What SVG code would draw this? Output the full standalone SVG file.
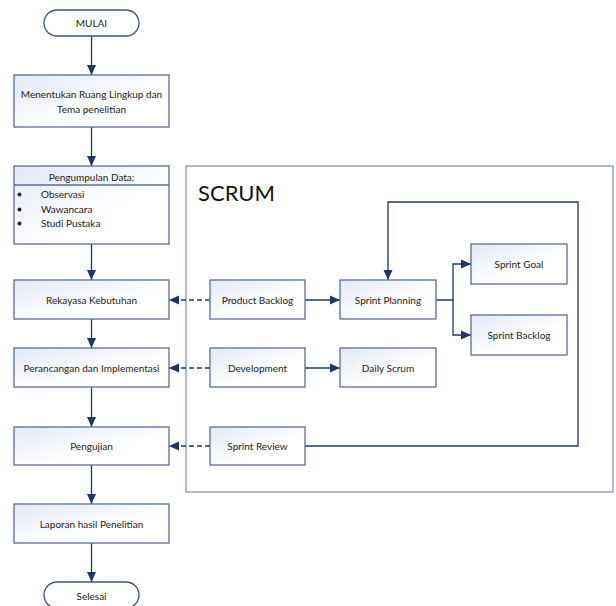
<svg xmlns="http://www.w3.org/2000/svg" width="616" height="606" viewBox="0 0 616 606">
<defs>
<linearGradient id="g" x1="0" y1="0" x2="1" y2="1">
<stop offset="0" stop-color="#e3e8f5"/>
<stop offset="0.6" stop-color="#ffffff"/>
<stop offset="1" stop-color="#ffffff"/>
</linearGradient>
<marker id="ah" markerUnits="userSpaceOnUse" markerWidth="10" markerHeight="10" viewBox="0 0 10 10" refX="10" refY="5" orient="auto">
<path d="M0,0.5 L10,5 L0,9.5 Z" fill="#1f3468"/>
</marker>
</defs>
<style>
.box{fill:url(#g);stroke:#5b6e9b;stroke-width:1.3}
.pill{fill:#ffffff;stroke:#3d5388;stroke-width:1.3}
.cont{fill:#ffffff;stroke:#8593b3;stroke-width:1.3}
.t{font-family:Lato,"Open Sans","Liberation Sans",sans-serif;font-size:10px;fill:#222222;text-anchor:middle}
.tl{font-family:Lato,"Open Sans","Liberation Sans",sans-serif;font-size:10px;fill:#222222}
.ln{fill:none;stroke:#1f3468;stroke-width:1.3}
.dash{fill:none;stroke:#1f3468;stroke-width:1.3;stroke-dasharray:5,3}
</style>
<rect width="616" height="606" fill="#ffffff"/>
<g id="scrum">
<rect class="cont" x="186" y="166" width="427" height="326"/>
<text x="198" y="201" style="font-family:Lato,'Open Sans','Liberation Sans',sans-serif;font-size:22px;fill:#111111">SCRUM</text>
</g>
<g id="connectors">
<path class="ln" d="M91.5,36 V75" marker-end="url(#ah)"/>
<path class="ln" d="M91.5,127 V166" marker-end="url(#ah)"/>
<path class="ln" d="M91.5,244 V280" marker-end="url(#ah)"/>
<path class="ln" d="M91.5,319 V348" marker-end="url(#ah)"/>
<path class="ln" d="M91.5,387 V427" marker-end="url(#ah)"/>
<path class="ln" d="M91.5,465 V504" marker-end="url(#ah)"/>
<path class="ln" d="M91.5,543 V582" marker-end="url(#ah)"/>
<path class="dash" d="M210,300 H169" marker-end="url(#ah)"/>
<path class="dash" d="M210,368 H169" marker-end="url(#ah)"/>
<path class="dash" d="M210,446 H169" marker-end="url(#ah)"/>
<path class="ln" d="M305,300 H340" marker-end="url(#ah)"/>
<path class="ln" d="M305,368 H340" marker-end="url(#ah)"/>
<path class="ln" d="M436,300 H453 V264 H471" marker-end="url(#ah)"/>
<path class="ln" d="M453,300 V335 H471" marker-end="url(#ah)"/>
<path class="ln" d="M305,446 H578 V202 H388 V280" marker-end="url(#ah)"/>
</g>
<g id="mulai">
<rect class="pill" x="44" y="10" width="95" height="26" rx="13"/>
<text class="t" x="91.5" y="27">MULAI</text>
</g>
<g id="ruang-lingkup">
<rect class="box" x="14" y="75" width="155" height="52"/>
<text class="t" x="91.5" y="98">Menentukan Ruang Lingkup dan</text>
<text class="t" x="91.5" y="113">Tema penelitian</text>
</g>
<g id="pengumpulan">
<rect class="box" x="14" y="166" width="155" height="78"/>
<line x1="14" y1="185" x2="169" y2="185" stroke="#5b6e9b" stroke-width="1.3"/>
<text class="t" x="91.5" y="181">Pengumpulan Data:</text>
<circle cx="19.5" cy="194.5" r="2" fill="#222"/>
<circle cx="19.5" cy="209.5" r="2" fill="#222"/>
<circle cx="19.5" cy="223.5" r="2" fill="#222"/>
<text class="tl" x="41" y="198">Observasi</text>
<text class="tl" x="41" y="213">Wawancara</text>
<text class="tl" x="41" y="227">Studi Pustaka</text>
</g>
<g id="rekayasa">
<rect class="box" x="14" y="280" width="155" height="39"/>
<text class="t" x="91.5" y="304">Rekayasa Kebutuhan</text>
</g>
<g id="perancangan">
<rect class="box" x="14" y="348" width="155" height="39"/>
<text class="t" x="91.5" y="372">Perancangan dan Implementasi</text>
</g>
<g id="pengujian">
<rect class="box" x="14" y="427" width="155" height="38"/>
<text class="t" x="91.5" y="450">Pengujian</text>
</g>
<g id="laporan">
<rect class="box" x="14" y="504" width="155" height="39"/>
<text class="t" x="91.5" y="528">Laporan hasil Penelitian</text>
</g>
<g id="selesai">
<rect class="pill" x="44" y="582" width="95" height="26" rx="13"/>
<text class="t" x="91.5" y="600">Selesai</text>
</g>
<g id="product-backlog">
<rect class="box" x="210" y="280" width="95" height="39"/>
<text class="t" x="257.5" y="304">Product Backlog</text>
</g>
<g id="sprint-planning">
<rect class="box" x="340" y="280" width="96" height="39"/>
<text class="t" x="388" y="304">Sprint Planning</text>
</g>
<g id="sprint-goal">
<rect class="box" x="471" y="244" width="96" height="40"/>
<text class="t" x="519" y="268">Sprint Goal</text>
</g>
<g id="sprint-backlog">
<rect class="box" x="471" y="315" width="96" height="40"/>
<text class="t" x="519" y="339">Sprint Backlog</text>
</g>
<g id="development">
<rect class="box" x="210" y="348" width="95" height="39"/>
<text class="t" x="257.5" y="372">Development</text>
</g>
<g id="daily-scrum">
<rect class="box" x="340" y="348" width="96" height="39"/>
<text class="t" x="388" y="372">Daily Scrum</text>
</g>
<g id="sprint-review">
<rect class="box" x="210" y="427" width="95" height="38"/>
<text class="t" x="257.5" y="450">Sprint Review</text>
</g>
</svg>
